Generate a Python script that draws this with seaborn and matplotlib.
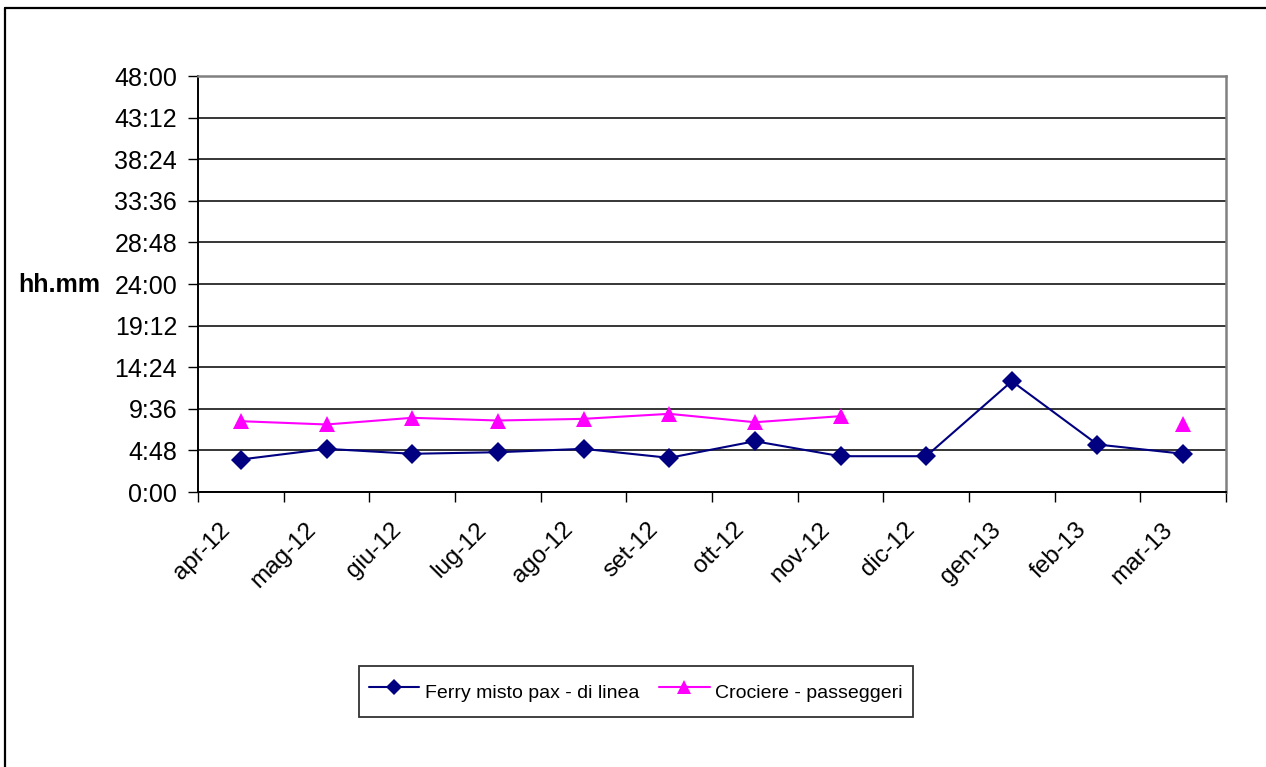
import numpy as np
import pandas as pd
import seaborn as sns
import matplotlib
matplotlib.use("Agg")
import matplotlib.pyplot as plt
import matplotlib.transforms as mtransforms
from matplotlib.lines import Line2D
from matplotlib.ticker import FixedLocator, FuncFormatter

# Months (Apr 2012 - Mar 2013)
months = ["apr-12", "mag-12", "giu-12", "lug-12", "ago-12", "set-12",
          "ott-12", "nov-12", "dic-12", "gen-13", "feb-13", "mar-13"]

# Average durations, in hours
ferry = [3.75, 4.98, 4.41, 4.59, 4.98, 3.94, 5.86, 4.13, 4.13, 12.78, 5.48, 4.41]
crociere = [8.17, 7.79, 8.56, 8.25, 8.44, 9.02, 8.05, 8.75,
            np.nan, np.nan, np.nan, 7.79]

series_names = ["Ferry misto pax - di linea", "Crociere - passeggeri"]
y_ticks = [0, 4.8, 9.6, 14.4, 19.2, 24, 28.8, 33.6, 38.4, 43.2, 48]

sns.set_theme(style="white")
plt.rcParams["font.family"] = ["Liberation Sans", "DejaVu Sans"]
plt.rcParams["text.color"] = "black"
plt.rcParams["axes.labelcolor"] = "black"


def long_frame(values, name):
    # split a series into runs of consecutive values so gaps stay open
    rows = []
    seg = 0
    prev_nan = False
    for i, v in enumerate(values):
        if np.isnan(v):
            prev_nan = True
            continue
        if prev_nan:
            seg += 1
        prev_nan = False
        rows.append({"x": i, "y": v, "serie": name, "seg": f"{name}-{seg}"})
    return pd.DataFrame(rows)


df = pd.concat([long_frame(ferry, series_names[0]),
                long_frame(crociere, series_names[1])], ignore_index=True)

colors = {series_names[0]: "#000080", series_names[1]: "#FF00FF"}
markers = {series_names[0]: "D", series_names[1]: "^"}
msize = {series_names[0]: 10, series_names[1]: 12}

W, H = 1266, 767
fig = plt.figure(figsize=(W / 100, H / 100), dpi=100)
ax = fig.add_axes([198 / W, (H - 492) / H, 1028 / W, 416 / H])

for name in series_names:
    sub = df[df["serie"] == name]
    sns.lineplot(data=sub, x="x", y="y", units="seg", estimator=None,
                 color=colors[name], marker=markers[name],
                 markersize=msize[name], markeredgewidth=0,
                 linewidth=1.5, legend=False, ax=ax, sort=False)

ax.set_xlim(-0.5, len(months) - 0.5)
ax.set_ylim(0, 48)

# y axis: hours shown as h:mm
ax.yaxis.set_major_locator(FixedLocator(y_ticks))
ax.yaxis.set_major_formatter(FuncFormatter(
    lambda v, p: f"{int(round(v * 60)) // 60}:{int(round(v * 60)) % 60:02d}"))
ax.grid(axis="y", color="black", linewidth=1.1)
ax.set_axisbelow(True)
ax.tick_params(axis="y", which="major", left=True, length=7, width=1,
               color="black", pad=8, labelsize=18, labelcolor="black")

# x axis: ticks between months, labels centered on months
ax.set_xticks(np.arange(len(months)))
ax.set_xticklabels(months, rotation=45, ha="right", rotation_mode="anchor",
                   fontsize=17.5, color="black")
ax.set_xticks(np.arange(len(months) + 1) - 0.5, minor=True)
ax.tick_params(axis="x", which="major", bottom=False, length=0, pad=9)
ax.tick_params(axis="x", which="minor", bottom=True, length=7, width=1,
               color="black")
shift = mtransforms.ScaledTranslation(-0.22, -0.14, fig.dpi_scale_trans)
for lbl in ax.get_xticklabels():
    lbl.set_transform(lbl.get_transform() + shift)

ax.set_xlabel("")
ax.set_ylabel("")

for s in ["left", "bottom"]:
    ax.spines[s].set_color("black")
    ax.spines[s].set_linewidth(1.4)
for s in ["top", "right"]:
    ax.spines[s].set_color("#808080")
    ax.spines[s].set_linewidth(1.8)

fig.text(100 / W, 1 - 285 / H, "hh.mm", ha="right", va="center",
         fontsize=18, fontweight="bold", color="black")

handles = [Line2D([0], [0], color=colors[n], marker=markers[n],
                  markersize=msize[n] - 2, markeredgewidth=0, linewidth=1.5)
           for n in series_names]
leg = fig.legend(handles, series_names, loc="center",
                 bbox_to_anchor=(636 / W, 1 - 691.5 / H), ncol=2,
                 fontsize=14, frameon=True, fancybox=False,
                 edgecolor="black", handlelength=2.6, handleheight=2.1,
                 columnspacing=1.0, handletextpad=0.3, borderpad=0.5,
                 borderaxespad=0)
leg.get_frame().set_linewidth(1.3)
for t in leg.get_texts():
    t.set_color("black")

# outer frame of the chart (left and top edges)
fig.add_artist(Line2D([5 / W, 5 / W], [0, 1 - 8 / H], color="black",
                      linewidth=1.6, transform=fig.transFigure))
fig.add_artist(Line2D([5 / W, 1], [1 - 8 / H, 1 - 8 / H], color="black",
                      linewidth=1.6, transform=fig.transFigure))

fig.savefig("out.png", dpi=100, facecolor="white")
